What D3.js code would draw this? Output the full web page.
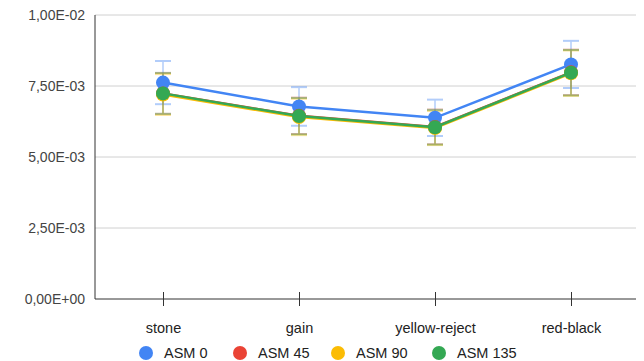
<!DOCTYPE html>
<html>
<head>
<meta charset="utf-8">
<script src="https://cdn.jsdelivr.net/npm/d3@7"></script>
<style>
  body { margin: 0; background: #fff; }
  text { font-family: "Liberation Sans", Arial, sans-serif; }
</style>
</head>
<body>
<div id="chart"></div>
<script>
const categories = ["stone", "gain", "yellow-reject", "red-black"];
const seriesNames = ["ASM 0", "ASM 45", "ASM 90", "ASM 135"];
const seriesColors = ["#4285f4", "#ea4335", "#fbbc04", "#34a853"];
const asm0 = [7.62e-3, 6.78e-3, 6.38e-3, 8.26e-3];
const asm45 = [7.24e-3, 6.45e-3, 6.06e-3, 7.98e-3];
const asm90 = [7.20e-3, 6.41e-3, 6.02e-3, 7.95e-3];
const asm135 = [7.24e-3, 6.44e-3, 6.05e-3, 7.97e-3];
const err0 = [0.76e-3, 0.68e-3, 0.64e-3, 0.83e-3];
const err45 = [0.72e-3, 0.64e-3, 0.61e-3, 0.80e-3];
const err90 = [0.72e-3, 0.64e-3, 0.60e-3, 0.80e-3];
const err135 = [0.72e-3, 0.64e-3, 0.61e-3, 0.80e-3];
const yTicks = [0, 2.5e-3, 5e-3, 7.5e-3, 1e-2];
const yTickLabels = ["0,00E+00", "2,50E-03", "5,00E-03", "7,50E-03", "1,00E-02"];

const series = [
  { name: seriesNames[0], color: seriesColors[0], values: asm0, errs: err0 },
  { name: seriesNames[1], color: seriesColors[1], values: asm45, errs: err45 },
  { name: seriesNames[2], color: seriesColors[2], values: asm90, errs: err90 },
  { name: seriesNames[3], color: seriesColors[3], values: asm135, errs: err135 }
];

const width = 644, height = 361;
const margin = { top: 15, right: 5, bottom: 62, left: 95 };

const svg = d3.select("#chart").append("svg")
  .attr("width", width)
  .attr("height", height);

const x = d3.scalePoint()
  .domain(categories)
  .range([margin.left, width - margin.right])
  .padding(0.5);
const y = d3.scaleLinear()
  .domain([0, 1e-2])
  .range([height - margin.bottom, margin.top]);

// gridlines
svg.append("g")
  .selectAll("line")
  .data(yTicks.slice(1))
  .join("line")
  .attr("x1", margin.left)
  .attr("x2", 636)
  .attr("y1", d => y(d))
  .attr("y2", d => y(d))
  .style("stroke", "#d0d0d0")
  .style("stroke-width", 1);

// y labels
svg.append("g")
  .selectAll("text")
  .data(yTicks)
  .join("text")
  .attr("x", margin.left - 10)
  .attr("y", d => y(d))
  .attr("dy", "0.35em")
  .attr("text-anchor", "end")
  .style("font-size", "14px")
  .style("fill", "#444")
  .text((d, i) => yTickLabels[i]);

// x axis
const xAxis = svg.append("g")
  .attr("transform", "translate(0," + y(0) + ")")
  .call(d3.axisBottom(x).tickSizeInner(7).tickSizeOuter(0).tickPadding(17));
xAxis.select(".domain").attr("d", "M" + margin.left + ",0H636").style("stroke", "#333");
xAxis.selectAll(".tick line").attr("y1", -7).attr("y2", 7).style("stroke", "#333");
xAxis.selectAll(".tick text")
  .style("font-family", "'Liberation Sans', Arial, sans-serif")
  .style("font-size", "14.5px")
  .style("fill", "#222");

// y axis line
svg.append("line")
  .attr("x1", margin.left).attr("x2", margin.left)
  .attr("y1", y(1e-2)).attr("y2", y(0))
  .style("stroke", "#333");

const line = d3.line()
  .x((d, i) => x(categories[i]))
  .y(d => y(d));

// error bars
series.forEach(s => {
  const g = svg.append("g").style("stroke", s.color).style("opacity", 0.4);
  s.values.forEach((v, i) => {
    const cx = x(categories[i]);
    g.append("line").attr("x1", cx).attr("x2", cx)
      .attr("y1", y(v + s.errs[i])).attr("y2", y(v - s.errs[i])).style("stroke-width", 1.5);
    g.append("line").attr("x1", cx - 8).attr("x2", cx + 8)
      .attr("y1", y(v + s.errs[i])).attr("y2", y(v + s.errs[i])).style("stroke-width", 2);
    g.append("line").attr("x1", cx - 8).attr("x2", cx + 8)
      .attr("y1", y(v - s.errs[i])).attr("y2", y(v - s.errs[i])).style("stroke-width", 2);
  });
});

// lines and points
series.forEach(s => {
  svg.append("path")
    .datum(s.values)
    .attr("d", line)
    .style("fill", "none")
    .style("stroke", s.color)
    .style("stroke-width", 2.5);
  svg.append("g")
    .selectAll("circle")
    .data(s.values)
    .join("circle")
    .attr("cx", (d, i) => x(categories[i]))
    .attr("cy", d => y(d))
    .attr("r", 7)
    .style("fill", s.color);
});

// legend
const legendX = [146, 240, 338, 439];
const legend = svg.append("g");
series.forEach((s, i) => {
  legend.append("circle")
    .attr("cx", legendX[i]).attr("cy", 353).attr("r", 7)
    .style("fill", s.color);
  legend.append("text")
    .attr("x", legendX[i] + 18).attr("y", 353).attr("dy", "0.35em")
    .style("font-size", "14.5px").style("fill", "#222")
    .text(s.name);
});
</script>
</body>
</html>
